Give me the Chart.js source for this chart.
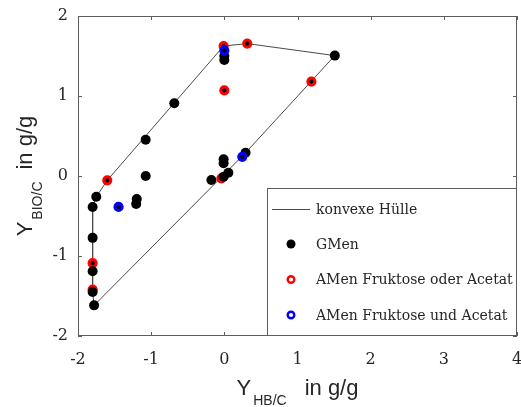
<!DOCTYPE html>
<html>
<head>
<meta charset="utf-8">
<script src="https://cdn.jsdelivr.net/npm/chart.js@4.4.1/dist/chart.umd.min.js"></script>
<style>
  html, body { margin: 0; padding: 0; background: #ffffff; }
  #wrap { width: 521px; height: 407px; }
</style>
</head>
<body>
<div id="wrap"><canvas id="c" width="521" height="407"></canvas></div>
<script>
// Yield of biomass vs. yield of PHB, per carbon source
const gmenX = [1.51, 0.00, 0.00, -0.684, -1.075, -1.075, -1.75, -1.80, -1.197, -1.205,
               -0.177, -0.01, -0.01, 0.055, -0.01, 0.29, -1.80, -1.80, -1.80, -1.78];
const gmenY = [1.505, 1.50, 1.45, 0.91, 0.453, 0.00, -0.26, -0.387, -0.287, -0.35,
               -0.05, 0.21, 0.16, 0.04, -0.01, 0.29, -0.773, -1.19, -1.45, -1.617];

const amenOderX = [0.313, -0.01, 0.00, 1.19, -1.60, -0.04, -1.80, -1.80];
const amenOderY = [1.655, 1.625, 1.07, 1.18, -0.054, -0.03, -1.09, -1.42];

const amenUndX = [0.00, 0.245, -1.446];
const amenUndY = [1.57, 0.24, -0.387];

// Convex hull vertices (closed polygon)
const hullX = [-1.78, 0.29, 1.51, 0.313, -0.01, -1.60, -1.75, -1.80, -1.80, -1.78];
const hullY = [-1.617, 0.29, 1.505, 1.655, 1.625, -0.054, -0.26, -0.387, -1.45, -1.617];

const xTicks = [-2, -1, 0, 1, 2, 3, 4];
const yTicks = [-2, -1, 0, 1, 2];

const seriesLabels = ['konvexe Hülle', 'GMen', 'AMen Fruktose oder Acetat', 'AMen Fruktose und Acetat'];

const pts = (xs, ys) => xs.map((x, i) => ({ x: x, y: ys[i] }));

const INK = '#262626';
const FRAME = '#5e5e5e';
const SERIF = '"DejaVu Serif", serif';
const SANS = '"Liberation Sans", Arial, sans-serif';

const datasets = [
  {
    label: seriesLabels[0],
    data: pts(hullX, hullY),
    showLine: true,
    borderColor: '#4a4a4a',
    borderWidth: 1,
    pointRadius: 0,
    fill: false,
    order: 10
  },
  {
    label: seriesLabels[1],
    data: pts(gmenX, gmenY),
    backgroundColor: '#000000',
    borderColor: '#000000',
    borderWidth: 0,
    pointRadius: 5,
    order: 2
  },
  {
    label: seriesLabels[2],
    data: pts(amenOderX, amenOderY),
    backgroundColor: '#000000',
    borderColor: '#ff0000',
    borderWidth: 3,
    pointRadius: 3.6,
    order: 3
  },
  {
    label: seriesLabels[3],
    data: pts(amenUndX, amenUndY),
    backgroundColor: '#000000',
    borderColor: '#0000ff',
    borderWidth: 3,
    pointRadius: 3.6,
    order: 1
  }
];

// Axes box, inward ticks, axis titles with subscripts and the legend panel
const decorations = {
  id: 'decorations',
  afterDraw(chart) {
    const ctx = chart.ctx;
    const a = chart.chartArea;
    const sx = chart.scales.x, sy = chart.scales.y;
    ctx.save();

    // tick marks pointing into the plot
    ctx.strokeStyle = FRAME;
    ctx.lineWidth = 1;
    ctx.beginPath();
    sx.ticks.forEach(t => {
      const px = Math.round(sx.getPixelForValue(t.value)) + 0.5;
      ctx.moveTo(px, a.bottom); ctx.lineTo(px, a.bottom - 4);
      ctx.moveTo(px, a.top); ctx.lineTo(px, a.top + 4);
    });
    sy.ticks.forEach(t => {
      const py = Math.round(sy.getPixelForValue(t.value)) + 0.5;
      ctx.moveTo(a.left, py); ctx.lineTo(a.left + 4, py);
      ctx.moveTo(a.right, py); ctx.lineTo(a.right - 4, py);
    });
    ctx.stroke();

    // legend panel in the lower right corner
    const lx = 267.5, ly = 188.5, lr = a.right - 0.5, lb = a.bottom - 0.5;
    ctx.fillStyle = '#ffffff';
    ctx.fillRect(lx, ly, lr - lx, lb - ly);
    ctx.strokeStyle = FRAME;
    ctx.strokeRect(lx, ly, lr - lx, lb - ly);

    const rows = [209, 244, 279.5, 315];
    const markX = 291, textX = 316;
    ctx.font = '14px ' + SERIF;
    ctx.textBaseline = 'middle';
    ctx.textAlign = 'left';
    chart.data.datasets.forEach((ds, i) => {
      const y = rows[i];
      if (i === 0) {
        ctx.strokeStyle = ds.borderColor;
        ctx.lineWidth = 1;
        ctx.beginPath();
        ctx.moveTo(272, y + 0.5); ctx.lineTo(310, y + 0.5);
        ctx.stroke();
      } else if (i === 1) {
        ctx.fillStyle = ds.backgroundColor;
        ctx.beginPath(); ctx.arc(markX, y, 4.5, 0, Math.PI * 2); ctx.fill();
      } else {
        ctx.strokeStyle = ds.borderColor;
        ctx.lineWidth = 2.4;
        ctx.beginPath(); ctx.arc(markX, y, 3.3, 0, Math.PI * 2); ctx.stroke();
      }
      ctx.fillStyle = INK;
      ctx.fillText(ds.label, textX, y + 1);
    });

    // axes frame
    ctx.strokeStyle = FRAME;
    ctx.lineWidth = 1;
    ctx.strokeRect(Math.round(a.left) + 0.5, Math.round(a.top) + 0.5,
                   Math.round(a.right - a.left) - 1, Math.round(a.bottom - a.top) - 1);

    // axis titles
    const drawTitle = (main, sub, rest, gap) => {
      ctx.font = '22px ' + SANS;
      const w1 = ctx.measureText(main).width;
      const w3 = ctx.measureText(rest).width;
      ctx.font = '14px ' + SANS;
      const w2 = ctx.measureText(sub).width;
      const total = w1 + 2 + w2 + gap + w3;
      let x = -total / 2;
      ctx.fillStyle = INK;
      ctx.textAlign = 'left';
      ctx.textBaseline = 'alphabetic';
      ctx.font = '22px ' + SANS;
      ctx.fillText(main, x, 0);
      x += w1 + 2;
      ctx.font = '14px ' + SANS;
      ctx.fillText(sub, x, 10);
      x += w2 + gap;
      ctx.font = '22px ' + SANS;
      ctx.fillText(rest, x, 0);
    };
    ctx.save();
    ctx.translate((a.left + a.right) / 2, 395);
    drawTitle('Y', 'HB/C', 'in g/g', 18);
    ctx.restore();
    ctx.save();
    ctx.translate(31.5, (a.top + a.bottom) / 2);
    ctx.rotate(-Math.PI / 2);
    drawTitle('Y', 'BIO/C', 'in g/g', 12);
    ctx.restore();

    ctx.restore();
  }
};

new Chart(document.getElementById('c'), {
  type: 'scatter',
  data: { datasets: datasets },
  options: {
    responsive: false,
    animation: false,
    devicePixelRatio: 1,
    layout: { autoPadding: false, padding: { top: 16, right: 4, left: 0, bottom: 0 } },
    plugins: { legend: { display: false }, tooltip: { enabled: false } },
    scales: {
      x: {
        type: 'linear',
        min: xTicks[0],
        max: xTicks[xTicks.length - 1],
        afterBuildTicks(s) { s.ticks = xTicks.map(v => ({ value: v })); },
        ticks: { font: { family: SERIF, size: 16 }, color: INK, padding: 14, maxRotation: 0 },
        grid: { display: false, drawTicks: false },
        border: { display: false },
        afterFit(s) { s.height = 71; s.paddingLeft = 0; s.paddingRight = 0; }
      },
      y: {
        type: 'linear',
        min: yTicks[0],
        max: yTicks[yTicks.length - 1],
        afterBuildTicks(s) { s.ticks = yTicks.map(v => ({ value: v })); },
        ticks: { font: { family: SERIF, size: 16 }, color: INK, padding: 10 },
        grid: { display: false, drawTicks: false },
        border: { display: false },
        afterFit(s) { s.width = 78; s.paddingTop = 0; s.paddingBottom = 0; }
      }
    }
  },
  plugins: [decorations]
});
</script>
</body>
</html>
